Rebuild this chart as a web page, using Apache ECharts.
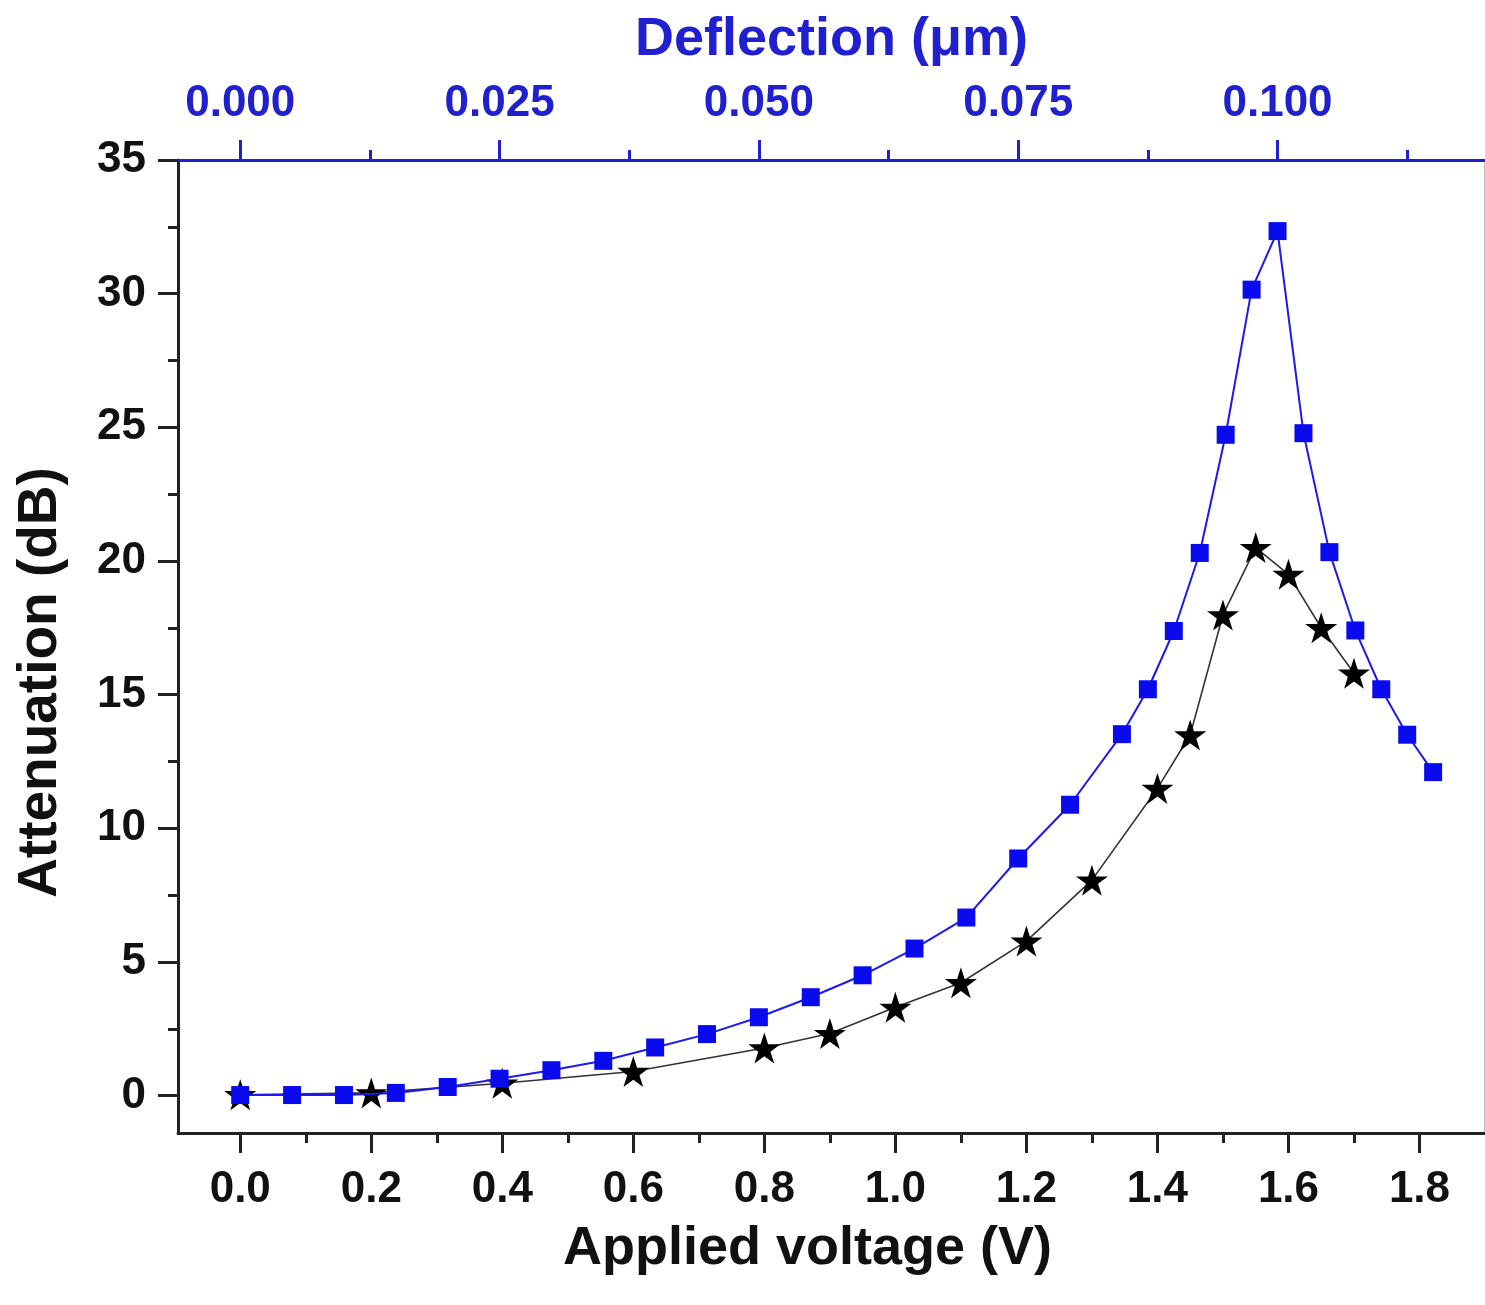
<!DOCTYPE html>
<html>
<head>
<meta charset="utf-8">
<script src="https://cdn.jsdelivr.net/npm/echarts@6/dist/echarts.min.js"></script>
<style>
html,body{margin:0;padding:0;background:#fff;}
#chart{width:1485px;height:1305px;}
</style>
</head>
<body>
<div id="chart"></div>
<script>
// ---- data ----
const blueDeflection = [0, 0.005, 0.01, 0.015, 0.02, 0.025, 0.03, 0.035, 0.04, 0.045, 0.05, 0.055, 0.06, 0.065, 0.07, 0.075, 0.08, 0.085, 0.0875, 0.09, 0.0925, 0.095, 0.0975, 0.1, 0.1025, 0.105, 0.1075, 0.11, 0.1125, 0.115];
const blueAttenuation = [0.02, 0.02, 0.02, 0.1, 0.32, 0.63, 0.95, 1.3, 1.8, 2.3, 2.93, 3.68, 4.5, 5.5, 6.66, 8.87, 10.88, 13.52, 15.2, 17.38, 20.3, 24.72, 30.15, 32.34, 24.78, 20.33, 17.4, 15.2, 13.5, 12.1];
const starVoltage = [0, 0.2, 0.4, 0.6, 0.8, 0.9, 1.0, 1.1, 1.2, 1.3, 1.4, 1.45, 1.5, 1.55, 1.6, 1.65, 1.7];
const starAttenuation = [0.03, 0.1, 0.46, 0.9, 1.78, 2.32, 3.3, 4.22, 5.78, 8.06, 11.49, 13.49, 17.98, 20.5, 19.5, 17.5, 15.8];

const voltageTicks = [0, 0.2, 0.4, 0.6, 0.8, 1.0, 1.2, 1.4, 1.6, 1.8];
const voltageMinorTicks = [0.1, 0.3, 0.5, 0.7, 0.9, 1.1, 1.3, 1.5, 1.7];
const deflectionTicks = [0, 0.025, 0.05, 0.075, 0.1];
const deflectionMinorTicks = [0.0125, 0.0375, 0.0625, 0.0875, 0.1125];
const attenuationTicks = [0, 5, 10, 15, 20, 25, 30, 35];
const attenuationMinorTicks = [2.5, 7.5, 12.5, 17.5, 22.5, 27.5, 32.5];

const voltageRange = [-0.095, 1.9];
const deflectionRange = [-0.006, 0.12];
const attenuationRange = [-1.4, 35];

// ---- styles ----
const FONT = 'Liberation Sans, Arial, sans-serif';
const BLUE = '#0a0aee';
const AXBLUE = '#2020d0';
const STAR = 'path://M50,0 L61.2,34.5 L97.6,34.5 L68.2,55.9 L79.4,90.5 L50,69.1 L20.6,90.5 L31.8,55.9 L2.4,34.5 L38.8,34.5 Z';

const chart = echarts.init(document.getElementById('chart'), null, {renderer: 'canvas'});

function hiddenAxisBase() {
  return {
    axisLine: {show: false, onZero: false},
    splitLine: {show: false},
    axisLabel: {show: false}
  };
}

const option = {
  backgroundColor: '#ffffff',
  animation: false,
  grid: {left: 178, right: 0, top: 160, bottom: 172, containLabel: false, outerBoundsMode: 'none'},
  xAxis: [
    {
      type: 'value', position: 'bottom', min: voltageRange[0], max: voltageRange[1],
      name: 'Applied voltage (V)', nameLocation: 'middle', nameGap: 89,
      nameTextStyle: {fontFamily: FONT, fontWeight: 'bold', fontSize: 54, color: '#111', padding: [0, 48, 0, 0]},
      axisLine: {show: true, onZero: false, lineStyle: {color: '#222', width: 3}},
      axisTick: {show: true, inside: false, length: 20, customValues: voltageTicks, lineStyle: {color: '#222', width: 3}},
      axisLabel: {show: true, customValues: voltageTicks, margin: 35, fontFamily: FONT, fontWeight: 'bold', fontSize: 44, color: '#111',
        formatter: v => v.toFixed(1)},
      splitLine: {show: false}
    },
    Object.assign(hiddenAxisBase(), {
      type: 'value', position: 'bottom', min: voltageRange[0], max: voltageRange[1],
      axisTick: {show: true, inside: false, length: 10, customValues: voltageMinorTicks, lineStyle: {color: '#222', width: 3}}
    }),
    {
      type: 'value', position: 'top', min: deflectionRange[0], max: deflectionRange[1],
      name: 'Deflection (\u03bcm)', nameLocation: 'middle', nameGap: 93,
      nameTextStyle: {fontFamily: FONT, fontWeight: 'bold', fontSize: 54, color: AXBLUE},
      axisLine: {show: true, onZero: false, lineStyle: {color: AXBLUE, width: 3}},
      axisTick: {show: true, inside: false, length: 20, customValues: deflectionTicks, lineStyle: {color: AXBLUE, width: 3}},
      axisLabel: {show: true, customValues: deflectionTicks, margin: 34, fontFamily: FONT, fontWeight: 'bold', fontSize: 44, color: AXBLUE,
        formatter: v => v.toFixed(3)},
      splitLine: {show: false}
    },
    Object.assign(hiddenAxisBase(), {
      type: 'value', position: 'top', min: deflectionRange[0], max: deflectionRange[1],
      axisTick: {show: true, inside: false, length: 10, customValues: deflectionMinorTicks, lineStyle: {color: AXBLUE, width: 3}}
    })
  ],
  yAxis: [
    {
      type: 'value', position: 'left', min: attenuationRange[0], max: attenuationRange[1],
      name: 'Attenuation (dB)', nameLocation: 'middle', nameGap: 110, nameRotate: 90,
      nameTextStyle: {fontFamily: FONT, fontWeight: 'bold', fontSize: 55, color: '#111', padding: [0, 72, 0, 0]},
      axisLine: {show: true, onZero: false, lineStyle: {color: '#222', width: 3}},
      axisTick: {show: true, inside: false, length: 20, customValues: attenuationTicks, lineStyle: {color: '#222', width: 3}},
      axisLabel: {show: true, customValues: attenuationTicks, margin: 32, fontFamily: FONT, fontWeight: 'bold', fontSize: 44, color: '#111'},
      splitLine: {show: false}
    },
    Object.assign(hiddenAxisBase(), {
      type: 'value', position: 'left', min: attenuationRange[0], max: attenuationRange[1],
      axisTick: {show: true, inside: false, length: 10, customValues: attenuationMinorTicks, lineStyle: {color: '#222', width: 3}}
    }),
    {
      type: 'value', position: 'right', min: attenuationRange[0], max: attenuationRange[1],
      axisLine: {show: true, onZero: false, lineStyle: {color: '#bbbbbb', width: 2}},
      axisTick: {show: false}, axisLabel: {show: false}, splitLine: {show: false}
    }
  ],
  series: [
    {
      name: 'stars', type: 'line', xAxisIndex: 0, yAxisIndex: 0,
      data: starVoltage.map((v, i) => [v, starAttenuation[i]]),
      symbol: STAR, symbolSize: [32, 31],
      itemStyle: {color: '#000'},
      lineStyle: {color: '#333', width: 1.6},
      z: 2
    },
    {
      name: 'squares', type: 'line', xAxisIndex: 2, yAxisIndex: 0,
      data: blueDeflection.map((d, i) => [d, blueAttenuation[i]]),
      symbol: 'rect', symbolSize: 18,
      itemStyle: {color: BLUE},
      lineStyle: {color: '#1a1af0', width: 2},
      z: 3
    }
  ]
};
chart.setOption(option);
</script>
</body>
</html>
